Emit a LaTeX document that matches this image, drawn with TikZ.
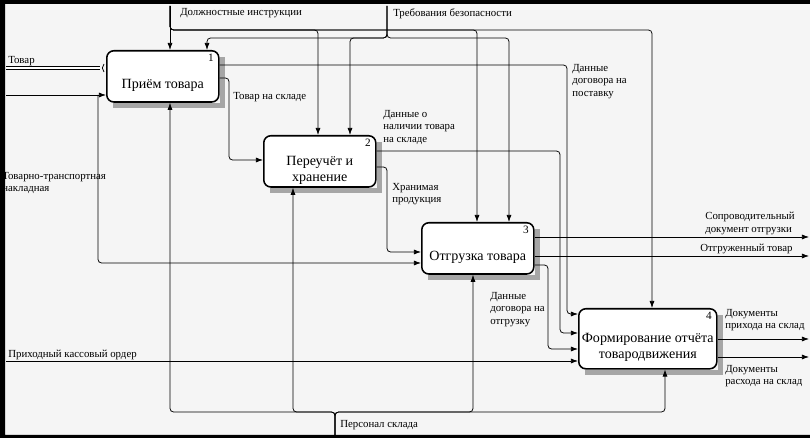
\documentclass[tikz,border=0pt]{standalone}
\usepackage{fontspec}
\setmainfont{Liberation Serif}
\usetikzlibrary{arrows.meta}

\tikzset{
    func/.style = {draw, line width=1.1pt, rounded corners=5pt, fill=white,
        minimum width=2.8cm, minimum height=1.28cm, anchor=north west, inner sep=0pt},
    boxshade/.style = {draw=black!35, line width=3.6pt},
    ftext/.style = {font=\fontsize{10}{11.4}\selectfont, align=center, inner sep=0pt},
    num/.style = {font=\fontsize{8}{9}\selectfont, anchor=north east, inner sep=0pt},
    lbl/.style = {font=\fontsize{7.7}{8.9}\selectfont, align=left, anchor=north west, inner sep=0pt},
    link/.style = {line width=0.55pt, rounded corners=2.5pt},
    arr/.style = {link, -{Latex[length=5pt, width=3.6pt]}},
    dbl/.style = {double, double distance=0.8pt, line width=0.8pt}
}

\begin{document}
\begin{tikzpicture}[x=0.025cm, y=-0.025cm]
    \fill[black!4] (0,0) rectangle (810,438);
    \fill (0,0) rectangle (810,4) (0,0) rectangle (5,438) (0,435) rectangle (810,438);
    \useasboundingbox (0,0) rectangle (810,438);

    \node[func] (b1) at (106,50) {};
    \node[func] (b2) at (263,135) {};
    \node[func] (b3) at (421,222) {};
    \node[func, minimum width=3.45cm, minimum height=1.5cm] (b4) at (578,308) {};
    \foreach \b in {b1, b2, b3, b4}
        \draw[boxshade] ([xshift=1.8pt, yshift=-5pt]\b.north east)
            -- ([xshift=1.8pt, yshift=-1.8pt]\b.south east)
            -- ([xshift=5pt, yshift=-1.8pt]\b.south west);
    \node[ftext] (t1) at ([yshift=-6.4pt]b1.center) {Приём товара};
    \node[ftext] (t2) at ([yshift=-6.4pt]b2.center) {Переучёт и\\хранение};
    \node[ftext] (t3) at ([yshift=-6.4pt]b3.center) {Отгрузка товара};
    \node[ftext] (t4) at ([yshift=-6.4pt]b4.center) {Формирование отчёта\\товародвижения};
    \node[num] (n1) at ([xshift=-4pt, yshift=-3pt]b1.north east) {1};
    \node[num] (n2) at ([xshift=-4pt, yshift=-3pt]b2.north east) {2};
    \node[num] (n3) at ([xshift=-4pt, yshift=-3pt]b3.north east) {3};
    \node[num] (n4) at ([xshift=-4pt, yshift=-3pt]b4.north east) {4};

    \coordinate (tovar) at (6,68);
    \coordinate (tun) at (100,68);
    \coordinate (ttn) at (6,95);
    \coordinate (ttnbr) at (98,95);
    \coordinate (i32) at (98,263);
    \coordinate (pko) at (6,361);
    \coordinate (dolzh) at (170,6);
    \coordinate (d2) at (318,30);
    \coordinate (d3) at (477,30);
    \coordinate (d4) at (652,30);
    \coordinate (treb) at (387,6);
    \coordinate (r1) at (207,38);
    \coordinate (r2) at (350,38);
    \coordinate (r3) at (509,38);
    \coordinate (pers) at (335,436);
    \coordinate (m1) at (170,412);
    \coordinate (m2) at (293,412);
    \coordinate (m3) at (473,412);
    \coordinate (m4) at (665,412);
    \coordinate (o1) at (567,65);
    \coordinate (i41) at (567,314);
    \coordinate (o2) at (229,78);
    \coordinate (i21) at (229,160);
    \coordinate (o3) at (560,151);
    \coordinate (i42) at (560,333);
    \coordinate (o4) at (387,167);
    \coordinate (i31) at (387,252);
    \coordinate (o5) at (548,265);
    \coordinate (i43) at (548,349);
    \coordinate (sop) at (809,237);
    \coordinate (otg) at (809,256);
    \coordinate (prih) at (809,339);
    \coordinate (rash) at (809,357);

    \draw[dbl] (tovar) -- (tun);
    \draw[link] (tun) ++(4,-4) to[bend right=45] ++(0,8);
    \draw[arr] (ttn) -- (b1.west |- ttn);
    \draw[arr] (ttnbr) |- (b3.west |- i32);
    \draw[arr] (pko) -- (b4.west |- pko);

    \draw[arr] (dolzh) -- (b1.north -| dolzh);
    \draw[arr] (dolzh) |- (d2) -- (b2.north -| d2);
    \draw[arr] (dolzh) |- (d3) -- (b3.north -| d3);
    \draw[arr] (dolzh) |- (d4) -- (b4.north -| d4);
    \draw[arr] (treb) |- (r1) -- (b1.north -| r1);
    \draw[arr] (treb) |- (r2) -- (b2.north -| r2);
    \draw[arr] (treb) |- (r3) -- (b3.north -| r3);

    \draw[arr] (pers) |- (m1) -- (b1.south -| m1);
    \draw[arr] (pers) |- (m2) -- (b2.south -| m2);
    \draw[arr] (pers) |- (m3) -- (b3.south -| m3);
    \draw[arr] (pers) |- (m4) -- (b4.south -| m4);

    \draw[arr] (b1.east |- o1) -- (o1) |- (b4.west |- i41);
    \draw[arr] (b1.east |- o2) -- (o2) |- (b2.west |- i21);
    \draw[arr] (b2.east |- o3) -- (o3) |- (b4.west |- i42);
    \draw[arr] (b2.east |- o4) -- (o4) |- (b3.west |- i31);
    \draw[arr] (b3.east |- o5) -- (o5) |- (b4.west |- i43);
    \draw[arr] (b3.east |- sop) -- (sop);
    \draw[arr] (b3.east |- otg) -- (otg);
    \draw[arr] (b4.east |- prih) -- (prih);
    \draw[arr] (b4.east |- rash) -- (rash);

    \node[lbl] (l1) at (8,56) {Товар};
    \node[lbl] (l2) at (180,8) {Должностные инструкции};
    \node[lbl] (l3) at (393,8) {Требования безопасности};
    \node[lbl] (l4) at (233,92) {Товар на складе};
    \node[lbl] (l5) at (383,110) {Данные о\\наличии товара\\на складе};
    \node[lbl] (l6) at (572,64) {Данные\\договора на\\поставку};
    \node[lbl] (l7) at (392,183) {Хранимая\\продукция};
    \node[lbl] (l8) at (2,172) {Товарно-транспортная\\накладная};
    \node[lbl] (l9) at (705,212) {Сопроводительный\\документ отгрузки};
    \node[lbl] (l10) at (700,244) {Отгруженный товар};
    \node[lbl] (l11) at (490,292) {Данные\\договора на\\отгрузку};
    \node[lbl] (l12) at (8,350) {Приходный кассовый ордер};
    \node[lbl] (l13) at (725,309) {Документы\\прихода на склад};
    \node[lbl] (l14) at (725,365) {Документы\\расхода на склад};
    \node[lbl] (l15) at (340,420) {Персонал склада};
\end{tikzpicture}
\end{document}
